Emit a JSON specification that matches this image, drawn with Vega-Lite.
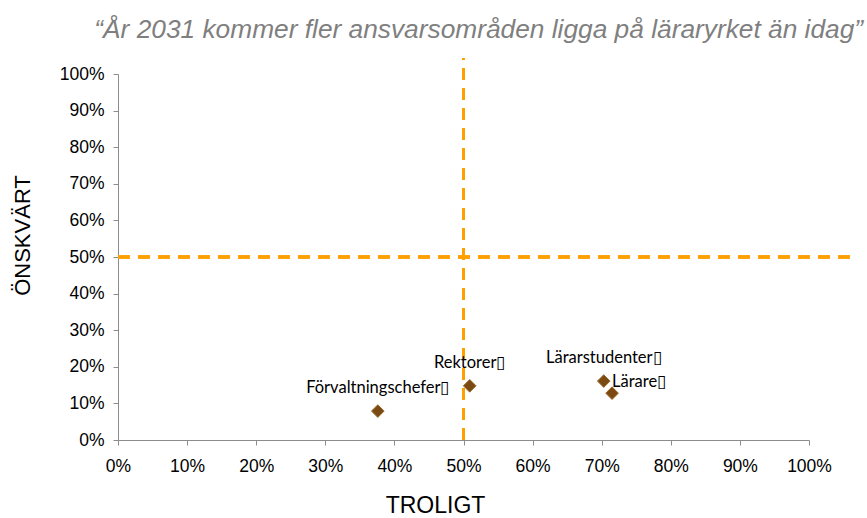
{
  "$schema": "https://vega.github.io/schema/vega-lite/v6.json",
  "width": 691,
  "height": 366,
  "autosize": "none",
  "padding": {"left": 118, "top": 74, "right": 58, "bottom": 78},
  "background": "white",
  "config": {
    "view": {"stroke": null},
    "axis": {
      "grid": false, "domainColor": "#8c8c8c", "tickColor": "#8c8c8c", "tickSize": 5,
      "labelOverlap": false, "labelFlush": false, "labelBound": false,
      "labelFont": "Liberation Sans", "labelFontSize": 17.5, "labelColor": "#000000",
      "titleFont": "Liberation Sans", "titleFontWeight": "normal", "titleColor": "#000000",
      "titleAlign": "center", "titleBaseline": "middle"
    },
    "axisX": {"labelPadding": 12, "titleFontSize": 23, "titleX": 317, "titleY": 65},
    "axisY": {"labelPadding": 9, "titleFontSize": 22, "titleX": -96, "titleY": 161, "titleAngle": -90}
  },
  "title": {
    "text": "“År 2031 kommer fler ansvarsområden ligga på läraryrket än idag”",
    "anchor": "end",
    "dx": 7,
    "offset": 13,
    "font": "Liberation Sans",
    "fontStyle": "italic",
    "fontWeight": "normal",
    "fontSize": 26.3,
    "color": "#7f7f7f"
  },
  "data": {
    "values": [
      {"namn": "Förvaltningschefer▯", "troligt": 0.376, "onskvart": 0.079, "grupp": "ovan"},
      {"namn": "Rektorer▯", "troligt": 0.509, "onskvart": 0.148, "grupp": "ovan"},
      {"namn": "Lärarstudenter▯", "troligt": 0.703, "onskvart": 0.161, "grupp": "ovan"},
      {"namn": "Lärare▯", "troligt": 0.715, "onskvart": 0.128, "grupp": "hoger"}
    ]
  },
  "layer": [
    {
      "mark": {"type": "rule", "color": "#FFA000", "strokeWidth": 3, "strokeDash": [12, 8]},
      "encoding": {
        "x": {"datum": 0.5, "type": "quantitative", "scale": {"domain": [0, 1]}, "axis": {"title": "TROLIGT", "format": "~%", "values": [0,0.1,0.2,0.3,0.4,0.5,0.6,0.7,0.8,0.9,1]}},
        "y": {"datum": 0, "type": "quantitative", "scale": {"domain": [0, 1]}, "axis": {"title": "ÖNSKVÄRT", "format": "~%", "values": [0,0.1,0.2,0.3,0.4,0.5,0.6,0.7,0.8,0.9,1]}},
        "y2": {"datum": 1.044}
      }
    },
    {
      "mark": {"type": "rule", "color": "#FFA000", "strokeWidth": 3, "strokeDash": [12, 8]},
      "encoding": {
        "y": {"datum": 0.5, "type": "quantitative", "axis": {"title": "ÖNSKVÄRT", "format": "~%", "values": [0,0.1,0.2,0.3,0.4,0.5,0.6,0.7,0.8,0.9,1]}},
        "x": {"datum": 0, "type": "quantitative", "axis": {"title": "TROLIGT", "format": "~%", "values": [0,0.1,0.2,0.3,0.4,0.5,0.6,0.7,0.8,0.9,1]}},
        "x2": {"datum": 1.066}
      }
    },
    {
      "mark": {"type": "point", "shape": "diamond", "filled": true, "size": 160, "color": "#7B4A12", "stroke": "#9C6A2E", "strokeWidth": 1, "opacity": 1},
      "encoding": {
        "x": {"field": "troligt", "type": "quantitative", "axis": {"title": "TROLIGT", "format": "~%", "values": [0,0.1,0.2,0.3,0.4,0.5,0.6,0.7,0.8,0.9,1]}},
        "y": {"field": "onskvart", "type": "quantitative", "axis": {"title": "ÖNSKVÄRT", "format": "~%", "values": [0,0.1,0.2,0.3,0.4,0.5,0.6,0.7,0.8,0.9,1]}}
      }
    },
    {
      "transform": [{"filter": "datum.grupp == 'ovan'"}],
      "mark": {"type": "text", "font": "Lato", "fontSize": 16.5, "color": "#000000", "align": "center", "baseline": "middle", "dy": -23},
      "encoding": {
        "x": {"field": "troligt", "type": "quantitative", "axis": {"title": "TROLIGT", "format": "~%", "values": [0,0.1,0.2,0.3,0.4,0.5,0.6,0.7,0.8,0.9,1]}},
        "y": {"field": "onskvart", "type": "quantitative", "axis": {"title": "ÖNSKVÄRT", "format": "~%", "values": [0,0.1,0.2,0.3,0.4,0.5,0.6,0.7,0.8,0.9,1]}},
        "text": {"field": "namn"}
      }
    },
    {
      "transform": [{"filter": "datum.grupp == 'hoger'"}],
      "mark": {"type": "text", "font": "Lato", "fontSize": 16.5, "color": "#000000", "align": "left", "baseline": "middle", "dx": 0, "dy": -11},
      "encoding": {
        "x": {"field": "troligt", "type": "quantitative", "axis": {"title": "TROLIGT", "format": "~%", "values": [0,0.1,0.2,0.3,0.4,0.5,0.6,0.7,0.8,0.9,1]}},
        "y": {"field": "onskvart", "type": "quantitative", "axis": {"title": "ÖNSKVÄRT", "format": "~%", "values": [0,0.1,0.2,0.3,0.4,0.5,0.6,0.7,0.8,0.9,1]}},
        "text": {"field": "namn"}
      }
    }
  ]
}
